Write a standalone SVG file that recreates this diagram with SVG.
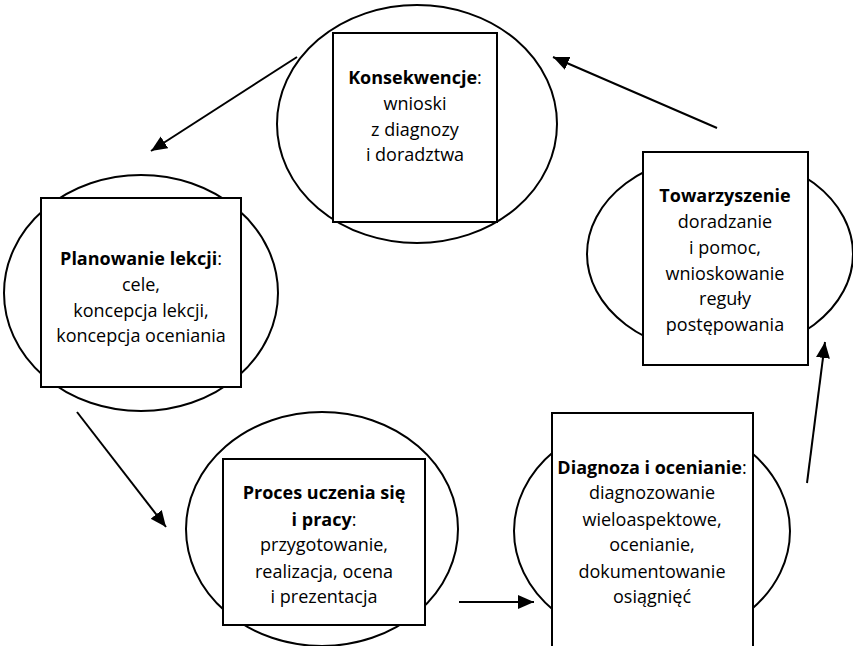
<svg xmlns="http://www.w3.org/2000/svg" width="853" height="646" viewBox="0 0 853 646">
<style>
.ell{fill:#fff;stroke:#000;stroke-width:2}
.box{fill:#fff;stroke:#000;stroke-width:2}
.t{font-family:"Open Sans","Noto Sans",sans-serif;font-size:18px;fill:#000;text-anchor:middle}
.b{font-weight:bold}
.arr{stroke:#000;stroke-width:2;fill:none;marker-end:url(#ah)}
</style>
<defs>
<marker id="ah" markerUnits="userSpaceOnUse" markerWidth="18" markerHeight="16" refX="16" refY="7" orient="auto">
<path d="M0,0 L16,7 L0,14 Z" fill="#000"/>
</marker>
</defs>
<rect width="853" height="646" fill="#fff"/>
<g id="connectors">
<line class="arr" x1="297" y1="57" x2="151" y2="151"/>
<line class="arr" x1="77" y1="412" x2="166" y2="527"/>
<line class="arr" x1="459" y1="602" x2="534" y2="602"/>
<line class="arr" x1="807" y1="483" x2="825" y2="342"/>
<line class="arr" x1="717" y1="128" x2="553" y2="57"/>
</g>
<g id="konsekwencje">
<ellipse class="ell" cx="417" cy="124" rx="140" ry="119"/>
<rect class="box" x="333" y="33" width="164" height="189"/>
<text class="t" x="415" y="84"><tspan class="b">Konsekwencje</tspan>:</text>
<text class="t" x="415" y="110">wnioski</text>
<text class="t" x="415" y="136">z diagnozy</text>
<text class="t" x="415" y="161">i doradztwa</text>
</g>
<g id="planowanie">
<ellipse class="ell" cx="141" cy="293" rx="137" ry="118"/>
<rect class="box" x="41" y="198" width="200" height="189"/>
<text class="t" x="141" y="265"><tspan class="b">Planowanie lekcji</tspan>:</text>
<text class="t" x="141" y="291">cele,</text>
<text class="t" x="141" y="317">koncepcja lekcji,</text>
<text class="t" x="141" y="342">koncepcja oceniania</text>
</g>
<g id="towarzyszenie">
<ellipse class="ell" cx="720" cy="254" rx="133" ry="100"/>
<rect class="box" x="643" y="152" width="165" height="213"/>
<text class="t b" x="725" y="202">Towarzyszenie</text>
<text class="t" x="725" y="228">doradzanie</text>
<text class="t" x="725" y="254">i pomoc,</text>
<text class="t" x="725" y="280">wnioskowanie</text>
<text class="t" x="725" y="305">reguły</text>
<text class="t" x="725" y="331">postępowania</text>
</g>
<g id="proces">
<ellipse class="ell" cx="322" cy="529" rx="136" ry="117"/>
<rect class="box" x="223" y="459" width="202" height="166"/>
<text class="t b" x="324" y="499">Proces uczenia się</text>
<text class="t" x="324" y="526"><tspan class="b">i pracy</tspan>:</text>
<text class="t" x="324" y="551">przygotowanie,</text>
<text class="t" x="324" y="578">realizacja, ocena</text>
<text class="t" x="324" y="603">i prezentacja</text>
</g>
<g id="diagnoza">
<ellipse class="ell" cx="652" cy="531" rx="138" ry="113"/>
<rect class="box" x="552" y="413" width="201" height="240"/>
<text class="t" x="652" y="474"><tspan class="b">Diagnoza i ocenianie</tspan>:</text>
<text class="t" x="652" y="499">diagnozowanie</text>
<text class="t" x="652" y="526">wieloaspektowe,</text>
<text class="t" x="652" y="551">ocenianie,</text>
<text class="t" x="652" y="578">dokumentowanie</text>
<text class="t" x="652" y="603">osiągnięć</text>
</g>
</svg>
